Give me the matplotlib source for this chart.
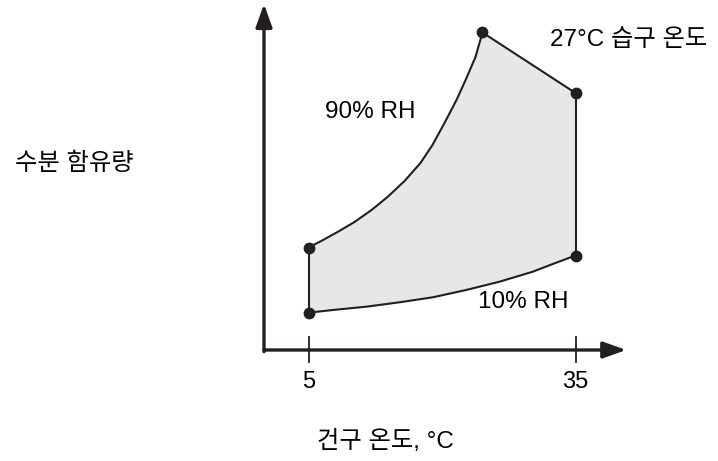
import matplotlib
matplotlib.use("Agg")
import matplotlib.pyplot as plt

plt.rcParams['font.family'] = ['Liberation Sans', 'Noto Sans CJK KR', 'DejaVu Sans']

# dry-bulb temperature (degC) vs. moisture content (arbitrary units)
rh90_t = [5.0, 6.43, 8.26, 10.17, 12.08, 13.88, 15.79, 17.58, 18.93, 20.28, 21.63, 22.75, 23.76, 24.55]
rh90_w = [10.25, 10.9, 11.8, 12.8, 14.0, 15.3, 16.9, 18.7, 20.5, 22.7, 25.0, 27.2, 29.3, 31.75]
wetbulb_t = [24.55, 35.0]
wetbulb_w = [31.75, 25.7]
rh10_t = [5.0, 7.73, 11.48, 15.22, 18.97, 22.71, 26.46, 30.2, 32.45, 35.0]
rh10_w = [3.73, 4.0, 4.33, 4.77, 5.27, 6.0, 6.83, 7.83, 8.6, 9.45]

corner_t = [5.0, 5.0, 24.55, 35.0, 35.0]
corner_w = [3.73, 10.25, 31.75, 25.7, 9.45]

tick_vals = [5, 35]
x_axis_end = 40.7
y_axis_end = 34.6

INK = '#231f20'
FILL = '#e6e7e9'

fig = plt.figure(figsize=(7.18, 4.61), dpi=100)
ax = fig.add_axes([0, 0, 1, 1])
ax.set_xlim(-264 / 8.9, (718 - 264) / 8.9)
ax.set_ylim(-11.1, 35.0)
ax.axis('off')

# shaded region: 10% RH curve -> right edge -> wet bulb line -> 90% RH curve (reversed)
poly_t = rh10_t + wetbulb_t[::-1] + rh90_t[::-1]
poly_w = rh10_w + wetbulb_w[::-1] + rh90_w[::-1]
ax.fill(poly_t, poly_w, color=FILL, lw=0, zorder=1)

line_kw = dict(color=INK, lw=1.5, zorder=2, solid_joinstyle='round')
ax.plot(rh90_t, rh90_w, **line_kw)
ax.plot(rh10_t, rh10_w, **line_kw)
ax.plot(wetbulb_t, wetbulb_w, **line_kw)
ax.plot([corner_t[0], corner_t[1]], [corner_w[0], corner_w[1]], **line_kw)
ax.plot([corner_t[3], corner_t[4]], [corner_w[3], corner_w[4]], **line_kw)
ax.plot(corner_t, corner_w, 'o', color=INK, ms=7.5, ls='none', zorder=3)

# axes drawn as arrows; vertical one starts half a line width low to square the corner
arrow = dict(arrowstyle='-|>,head_length=0.7,head_width=0.25', color=INK,
             lw=2.4, shrinkA=0, shrinkB=0, mutation_scale=20)
ax.annotate('', xy=(x_axis_end, 0), xytext=(0, 0), arrowprops=arrow)
ax.annotate('', xy=(0, y_axis_end), xytext=(0, -0.167), arrowprops=arrow)

for t in tick_vals:
    ax.plot([t, t], [1.3, -1.2], color=INK, lw=1.3)
    ax.text(t, -3.2, str(t), ha='center', va='center', fontsize=17)

ax.text(11.9, 23.8, '90% RH', ha='center', va='center', fontsize=17.5)
ax.text(29.1, 4.8, '10% RH', ha='center', va='center', fontsize=17.5)
ax.text(32.1, 31.0, '27°C 습구 온도', ha='left', va='center', fontsize=17.5)
ax.text(-21.3, 18.6, '수분 함유량', ha='center', va='center', fontsize=17.5)
ax.text(13.6, -9.1, '건구 온도, °C', ha='center', va='center', fontsize=17.5)

fig.savefig('out.png', dpi=100)
